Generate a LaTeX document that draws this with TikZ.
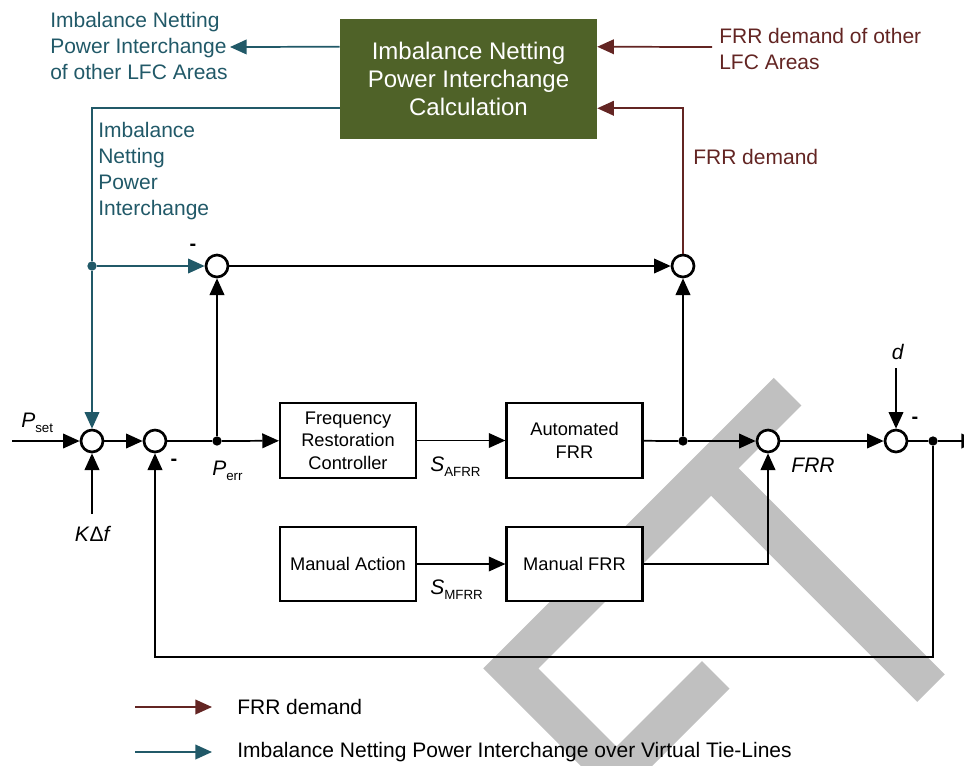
\documentclass[tikz,border=0pt]{standalone}
\usepackage{fontspec}
\setmainfont{Liberation Sans}
\usetikzlibrary{arrows.meta,calc}

\definecolor{netteal}{RGB}{33,89,104}
\definecolor{frrred}{RGB}{99,37,35}
\definecolor{calcgreen}{RGB}{79,98,40}
\definecolor{markgray}{RGB}{192,192,192}

\tikzset{
  tip/.style={-{Triangle[length=12.5pt,width=11pt]}},
  conn/.style={line width=1.3pt},
  sig/.style={conn,tip},
  tealsig/.style={conn,tip,color=netteal},
  tealline/.style={conn,color=netteal},
  redsig/.style={conn,tip,color=frrred},
  blk/.style={draw,line width=1.6pt,fill=white,minimum width=102pt,minimum height=56pt,
    inner sep=0pt,align=center,font=\fontsize{13.7}{17}\selectfont},
  sumj/.style={circle,draw,line width=2pt,fill=white,minimum size=16.5pt,inner sep=0pt},
  jdot/.style={circle,fill,minimum size=7pt,inner sep=0pt},
  tealdot/.style={jdot,fill=netteal},
  lbl/.style={inner sep=0pt,font=\fontsize{15.75}{19.5}\selectfont},
  tlabel/.style={lbl,text=netteal,align=left},
  rlabel/.style={lbl,text=frrred,align=left},
  vlabel/.style={inner sep=0pt,font=\fontsize{15.75}{19.5}\selectfont},
  minus/.style={inner sep=0pt,font=\bfseries\fontsize{15}{16}\selectfont},
}

\newcommand{\sgn}[2]{\textit{#1}\raisebox{-0.45ex}{\fontsize{10}{12}\selectfont #2}}

\begin{document}
\begin{tikzpicture}[x=0.75pt,y=-0.75pt]
\useasboundingbox (0,0) rectangle (964,765);
\clip (0,0) rectangle (964,765);

% background watermark strokes
\fill[markgray] (773.8,377.8) -- (801.4,405.4) -- (538.4,668.4) -- (670,800)
  -- (615,800) -- (483.3,668.3) -- cycle;
\fill[markgray] (702,661) -- (729.5,688.5) -- (618,800) -- (563,800) -- cycle;
\fill[markgray] (730.25,459.75) -- (944.75,674.25) -- (917.25,701.75) -- (702.75,487.25) -- cycle;

% calculation block
\node[fill=calcgreen,minimum width=192.75pt,minimum height=90pt,inner sep=0pt,
  text=white,align=center,font=\fontsize{18}{21}\selectfont] (gb) at (468.5,79)
  {Imbalance Netting\\Power Interchange\\Calculation};

% summing junctions
\node[sumj] (S1) at (92,441) {};
\node[sumj] (S2) at (155,441) {};
\node[sumj] (S3) at (217,266) {};
\node[sumj] (S4) at (683,266) {};
\node[sumj] (S5) at (768,441) {};
\node[sumj] (S6) at (896,441) {};

% branch points
\node[jdot] (perr) at (217,441) {};
\node[jdot] (dA) at (683,441) {};
\node[jdot] (dB) at (933,441) {};
\node[tealdot] (tj) at (92,266) {};

% blocks
\node[blk] (frc) at (348,440.5) {Frequency\\Restoration\\Controller};
\node[blk] (afrr) at (574.5,440.5) {Automated\\FRR};
\node[blk] (ma) at (348,564) {Manual Action};
\node[blk] (mfrr) at (574.5,564) {Manual FRR};

% labels
\node[tlabel,anchor=north west] (tother) at (50,12) {Imbalance Netting\\Power Interchange\\of other LFC Areas};
\node[tlabel,anchor=north west] (tin) at (98,122) {Imbalance\\Netting\\Power\\Interchange};
\node[rlabel,anchor=north west] (rother) at (719,28) {FRR demand of other\\LFC Areas};
\node[rlabel,anchor=west] (rdem) at (693,157) {FRR demand};
\node[vlabel,anchor=west] (pset) at (21,423) {\sgn{P}{set}};
\node[vlabel] (kdf) at (93,534) {\textit{K}Δ\textit{f}};
\node[vlabel,anchor=west] (perrl) at (212,471) {\sgn{P}{err}};
\node[vlabel,anchor=west] (safrr) at (430,467) {\sgn{S}{AFRR}};
\node[vlabel,anchor=west] (smfrr) at (430,590) {\sgn{S}{MFRR}};
\node[vlabel] (frrl) at (813,465) {\textit{FRR}};
\node[vlabel] (dl) at (898,352) {\textit{d}};
\node[minus] (m1) at (193,247) {-};
\node[minus] (m2) at (174,462) {-};
\node[minus] (m3) at (915,420) {-};

% free ends
\coordinate (pin) at (12,441);
\coordinate (kin) at (92,514);
\coordinate (din) at (896,368);
\coordinate (out) at (978,441);
\coordinate (fb) at (933,657);
\coordinate (gbL1) at ($(gb.north west)+(0,28)$);
\coordinate (gbL2) at ($(gb.south west)+(0,-31)$);
\coordinate (gbR1) at ($(gb.north east)+(0,28)$);
\coordinate (gbR2) at ($(gb.south east)+(0,-31)$);
\coordinate (tout) at (230,47);
\coordinate (rin) at (712,47);

% main loop
\draw[sig] (pin) -- (S1);
\draw[sig] (kin) -- (S1);
\draw[sig] (S1) -- (S2);
\draw[conn] (S2) -- (perr);
\draw[sig] (perr) -- (frc);
\draw[sig] (perr) -- (S3);
\draw[sig] (frc) -- (afrr);
\draw[conn] (afrr) -- (dA);
\draw[sig] (dA) -- (S5);
\draw[sig] (dA) -- (S4);
\draw[sig] (S3) -- (S4);
\draw[sig] (S5) -- (S6);
\draw[sig] (din) -- (S6);
\draw[conn] (S6) -- (dB);
\draw[sig] (dB) -- (out);
\draw[sig] (dB) -- (fb) -| (S2);
\draw[sig] (ma) -- (mfrr);
\draw[sig] (mfrr) -| (S5);

% imbalance netting interchange
\draw[tealsig] (gbL1) -- (tout);
\draw[tealline] (gbL2) -| (tj);
\draw[tealsig] (tj) -- (S1);
\draw[tealsig] (tj) -- (S3);

% FRR demand
\draw[redsig] (S4) |- (gbR2);
\draw[redsig] (rin) -- (gbR1);

% legend
\coordinate (lr1) at (135,707);
\coordinate (lr2) at (212,707);
\coordinate (lt1) at (135,752);
\coordinate (lt2) at (212,752);
\draw[redsig] (lr1) -- (lr2);
\draw[tealsig] (lt1) -- (lt2);
\node[lbl,anchor=west] (leg1) at (237,707) {FRR demand};
\node[lbl,anchor=west] (leg2) at (237,752) {Imbalance Netting Power Interchange over Virtual Tie-Lines};
\end{tikzpicture}
\end{document}
